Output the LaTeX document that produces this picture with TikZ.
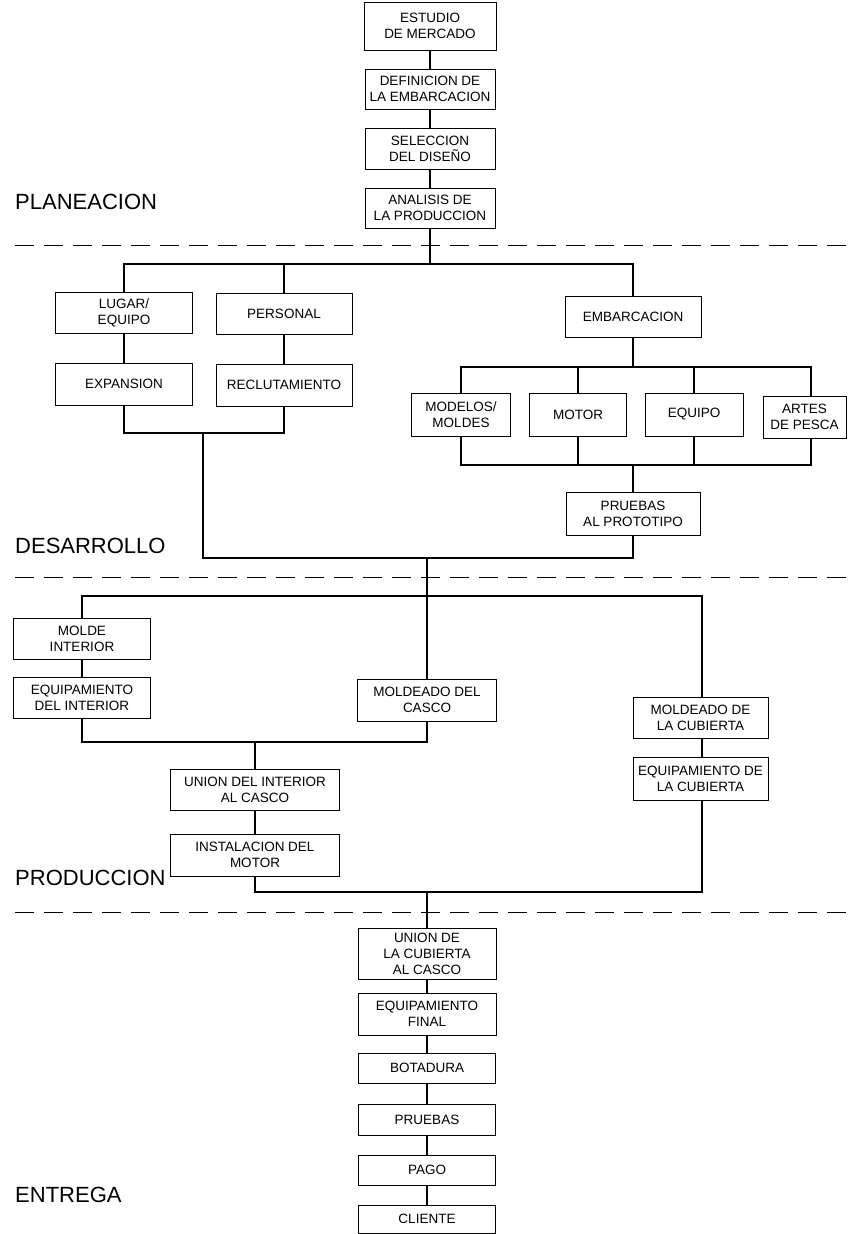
\documentclass[tikz,border=0pt]{standalone}
\usepackage{fontspec}
\setmainfont{Liberation Sans}
\begin{document}
\begin{tikzpicture}[x=1pt,y=-1pt,
  box/.style={draw, line width=0.9pt, inner sep=0pt, align=center,
    font=\fontsize{13.5}{16}\selectfont},
  conn/.style={line width=1.1pt},
  sepline/.style={line width=0.9pt, dash pattern=on 19pt off 10pt},
  phase/.style={anchor=west, inner sep=0pt, font=\fontsize{22}{24}\selectfont}]
\useasboundingbox (0,0) rectangle (852,1234);

% ---------- PLANEACION ----------
\node[box, minimum width=132, minimum height=48] (est) at (430,26) {ESTUDIO\\DE MERCADO};
\node[box, minimum width=130, minimum height=40] (def) at (430,89) {DEFINICION DE\\LA EMBARCACION};
\node[box, minimum width=130, minimum height=41] (sel) at (430,148.5) {SELECCION\\DEL DISEÑO};
\node[box, minimum width=130, minimum height=40] (ana) at (430,208) {ANALISIS DE\\LA PRODUCCION};
\draw[conn] (est.south) -- (def.north);
\draw[conn] (def.south) -- (sel.north);
\draw[conn] (sel.south) -- (ana.north);

\node[phase] (lplan) at (15,202) {PLANEACION};
\draw[sepline] (15,245) -- (852,245);

% ---------- DESARROLLO ----------
\node[box, minimum width=137, minimum height=41] (lug) at (124,312.5) {LUGAR/\\EQUIPO};
\node[box, minimum width=136, minimum height=41] (per) at (284,313.5) {PERSONAL};
\node[box, minimum width=137, minimum height=42] (exp) at (124,384) {EXPANSION};
\node[box, minimum width=136, minimum height=42] (rec) at (284,385) {RECLUTAMIENTO};
\node[box, minimum width=136, minimum height=41] (emb) at (633,316.5) {EMBARCACION};
\node[box, minimum width=99, minimum height=43] (mod) at (461,414.5) {MODELOS/\\MOLDES};
\node[box, minimum width=97, minimum height=43] (mot) at (578,414.5) {MOTOR};
\node[box, minimum width=98, minimum height=43] (equ) at (694,414.5) {EQUIPO};
\node[box, minimum width=83, minimum height=42] (art) at (804.5,417) {ARTES\\DE PESCA};
\node[box, minimum width=134, minimum height=43] (pru) at (633,513.5) {PRUEBAS\\AL PROTOTIPO};

\coordinate (b1) at (430,264);
\coordinate (b1r) at (633,264);
\draw[conn] (ana.south) -- (b1);
\draw[conn] (lug.north) |- (b1r) -- (emb.north);
\draw[conn] (per.north) -- (per.north |- b1);
\draw[conn] (lug.south) -- (exp.north);
\draw[conn] (per.south) -- (rec.north);

\coordinate (lb) at (203,433);
\coordinate (b4r) at (633,558);
\coordinate (b4m) at (427,558);
\draw[conn] (exp.south) |- (lb) -| (rec.south);
\draw[conn] (lb) |- (b4r) -- (pru.south);

\coordinate (b2) at (633,367);
\coordinate (b2r) at (811,367);
\draw[conn] (emb.south) -- (b2);
\draw[conn] (mod.north) |- (b2r) -- (b2r |- art.north);
\draw[conn] (mot.north) -- (mot.north |- b2);
\draw[conn] (equ.north) -- (equ.north |- b2);

\coordinate (b3r) at (811,465);
\draw[conn] (mod.south) |- (b3r) -- (b3r |- art.south);
\draw[conn] (mot.south) -- (mot.south |- b3r);
\draw[conn] (equ.south) -- (equ.south |- b3r);
\draw[conn] (pru.north) -- (pru.north |- b3r);

\node[phase] (ldes) at (15,546) {DESARROLLO};
\draw[sepline] (15,577) -- (852,577);

% ---------- PRODUCCION ----------
\node[box, minimum width=137, minimum height=41] (mi) at (82,638.5) {MOLDE\\INTERIOR};
\node[box, minimum width=137, minimum height=41] (ei) at (82,697.5) {EQUIPAMIENTO\\DEL INTERIOR};
\node[box, minimum width=139, minimum height=42] (mc) at (427,700) {MOLDEADO DEL\\CASCO};
\node[box, minimum width=135, minimum height=41] (mcub) at (700.5,717.5) {MOLDEADO DE\\LA CUBIERTA};
\node[box, minimum width=135, minimum height=43] (ecub) at (700.5,778.5) {EQUIPAMIENTO DE\\LA CUBIERTA};
\node[box, minimum width=169, minimum height=41] (ui) at (255,789.5) {UNION DEL INTERIOR\\AL CASCO};
\node[box, minimum width=169, minimum height=42] (inst) at (255,855) {INSTALACION DEL\\MOTOR};

\coordinate (b5) at (427,596);
\coordinate (b5r) at (702,596);
\draw[conn] (b4m) -- (b5);
\draw[conn] (mi.north) |- (b5r) -- (b5r |- mcub.north);
\draw[conn] (b5) -- (mc.north);
\draw[conn] (mi.south) -- (ei.north);

\coordinate (b6m) at (255,742);
\draw[conn] (ei.south) |- (b6m) -| (mc.south);
\draw[conn] (b6m) -- (ui.north);
\draw[conn] (ui.south) -- (inst.north);
\draw[conn] (b5r |- mcub.south) -- (b5r |- ecub.north);

\coordinate (b7m) at (427,892);
\coordinate (b7r) at (702,892);
\draw[conn] (inst.south) |- (b7r) -- (b7r |- ecub.south);

\node[phase] (lpro) at (15,878) {PRODUCCION};
\draw[sepline] (15,912) -- (852,912);

% ---------- ENTREGA ----------
\node[box, minimum width=138, minimum height=51] (unc) at (427,953.5) {UNION DE\\LA CUBIERTA\\AL CASCO};
\node[box, minimum width=138, minimum height=42] (ef) at (427,1014) {EQUIPAMIENTO\\FINAL};
\node[box, minimum width=137, minimum height=30] (bot) at (427,1068) {BOTADURA};
\node[box, minimum width=137, minimum height=31] (prb) at (427,1119.5) {PRUEBAS};
\node[box, minimum width=137, minimum height=30] (pago) at (427,1170) {PAGO};
\node[box, minimum width=137, minimum height=28] (cli) at (427,1219) {CLIENTE};

\draw[conn] (b7m) -- (unc.north);
\draw[conn] (unc.south) -- (ef.north);
\draw[conn] (ef.south) -- (bot.north);
\draw[conn] (bot.south) -- (prb.north);
\draw[conn] (prb.south) -- (pago.north);
\draw[conn] (pago.south) -- (cli.north);

\node[phase] (lent) at (15,1195) {ENTREGA};
\end{tikzpicture}
\end{document}
